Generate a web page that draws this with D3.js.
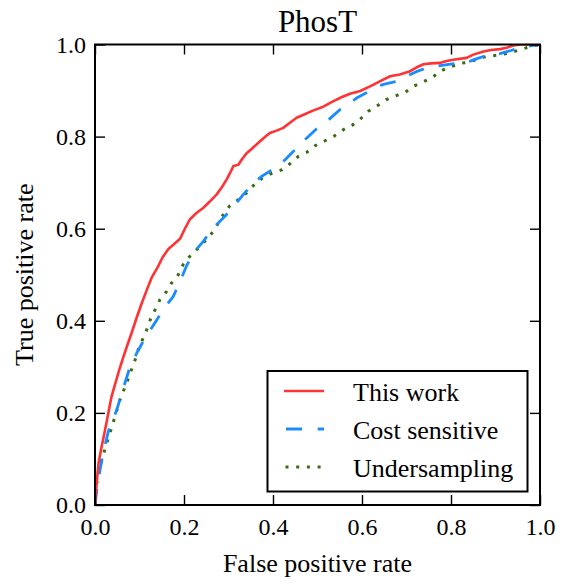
<!DOCTYPE html>
<html>
<head>
<meta charset="utf-8">
<script src="https://cdn.jsdelivr.net/npm/d3@7"></script>
<style>
  html, body { margin: 0; padding: 0; background: #fff; }
  svg { display: block; }
  text { font-family: "Liberation Serif", "DejaVu Serif", serif; fill: #000; }
</style>
</head>
<body>
<svg id="chart" width="563" height="584"></svg>
<script>
const title = "PhosT";
const xLabel = "False positive rate";
const yLabel = "True positive rate";
const tickValues = [0.0, 0.2, 0.4, 0.6, 0.8, 1.0];
const seriesNames = ["This work", "Cost sensitive", "Undersampling"];

const thisWorkFpr = [0,0.004,0.008,0.015,0.022,0.03,0.037,0.045,0.055,0.064,0.073,0.082,0.093,0.105,0.116,0.127,0.14,0.152,0.165,0.178,0.191,0.202,0.213,0.228,0.243,0.258,0.273,0.285,0.296,0.305,0.311,0.322,0.331,0.341,0.356,0.371,0.383,0.393,0.408,0.423,0.438,0.453,0.47,0.491,0.513,0.536,0.555,0.573,0.596,0.618,0.64,0.663,0.685,0.708,0.722,0.738,0.755,0.775,0.79,0.805,0.835,0.85,0.873,0.89,0.91,0.925,0.94,0.955,1];
const thisWorkTpr = [0,0.05,0.091,0.127,0.16,0.2,0.235,0.262,0.295,0.322,0.348,0.373,0.405,0.438,0.466,0.493,0.515,0.538,0.556,0.567,0.578,0.6,0.62,0.634,0.645,0.659,0.674,0.69,0.707,0.724,0.736,0.739,0.752,0.764,0.777,0.79,0.8,0.808,0.813,0.819,0.83,0.841,0.848,0.857,0.865,0.877,0.886,0.893,0.899,0.909,0.92,0.931,0.935,0.942,0.95,0.957,0.959,0.96,0.964,0.967,0.971,0.978,0.985,0.988,0.99,0.993,0.998,1,1];

const costFpr = [0,0.004,0.012,0.02,0.03,0.049,0.064,0.079,0.095,0.112,0.139,0.153,0.176,0.19,0.206,0.225,0.243,0.262,0.292,0.313,0.333,0.356,0.375,0.393,0.416,0.446,0.461,0.476,0.498,0.521,0.536,0.551,0.573,0.59,0.61,0.633,0.655,0.678,0.7,0.722,0.745,0.768,0.795,0.82,0.843,0.86,0.88,0.91,0.935,0.955,0.985,1];
const costTpr = [0,0.033,0.08,0.12,0.16,0.207,0.255,0.301,0.332,0.362,0.402,0.424,0.453,0.483,0.52,0.552,0.572,0.598,0.627,0.65,0.674,0.699,0.714,0.725,0.739,0.768,0.784,0.797,0.817,0.833,0.846,0.859,0.873,0.885,0.895,0.909,0.915,0.92,0.931,0.941,0.949,0.953,0.957,0.96,0.964,0.97,0.976,0.98,0.987,0.993,0.998,1];

const underFpr = [0,0.003,0.008,0.015,0.022,0.037,0.056,0.075,0.09,0.097,0.116,0.124,0.135,0.146,0.161,0.172,0.187,0.198,0.213,0.232,0.25,0.266,0.277,0.288,0.303,0.322,0.341,0.36,0.375,0.397,0.42,0.438,0.457,0.476,0.494,0.517,0.536,0.558,0.577,0.596,0.614,0.633,0.654,0.674,0.697,0.715,0.738,0.759,0.775,0.798,0.82,0.843,0.865,0.888,0.914,0.936,0.959,0.981,1];
const underTpr = [0,0.04,0.076,0.098,0.12,0.167,0.228,0.275,0.315,0.337,0.38,0.402,0.424,0.446,0.464,0.482,0.5,0.522,0.54,0.558,0.576,0.594,0.612,0.63,0.65,0.663,0.678,0.698,0.709,0.72,0.728,0.741,0.757,0.766,0.78,0.791,0.8,0.815,0.824,0.838,0.855,0.866,0.88,0.888,0.896,0.909,0.919,0.929,0.942,0.951,0.959,0.962,0.971,0.975,0.978,0.983,0.99,0.996,1];

const svg = d3.select("#chart");
const L = 95, R = 540, T = 44.5, B = 505;

const x = d3.scaleLinear().domain([0, 1]).range([L, R]);
const y = d3.scaleLinear().domain([0, 1]).range([B, T]);

svg.append("defs").append("clipPath").attr("id", "clip")
  .append("rect").attr("x", L).attr("y", T).attr("width", R - L).attr("height", B - T);

const styles = [
  { color: "#ff3333", dash: null, width: 2.6 },
  { color: "#1a8cff", dash: "16,15", width: 2.8 },
  { color: "#3a6b10", dash: "3,7.7", width: 3 }
];
const series = [
  thisWorkFpr.map((v, i) => [v, thisWorkTpr[i]]),
  costFpr.map((v, i) => [v, costTpr[i]]),
  underFpr.map((v, i) => [v, underTpr[i]])
];

const line = d3.line().x(d => x(d[0])).y(d => y(d[1]));
const g = svg.append("g").attr("clip-path", "url(#clip)");
[2, 1, 0].forEach(i => {
  const p = g.append("path").datum(series[i])
    .attr("d", line)
    .attr("fill", "none")
    .attr("stroke", styles[i].color)
    .attr("stroke-width", styles[i].width)
    .attr("stroke-linejoin", "round");
  if (styles[i].dash) p.attr("stroke-dasharray", styles[i].dash);
});

const fmt = d3.format(".1f");
const tickLen = 10;
const axB = svg.append("g").attr("transform", `translate(0,${B})`)
  .call(d3.axisBottom(x).tickValues(tickValues).tickFormat(fmt).tickSizeInner(-tickLen).tickSizeOuter(0).tickPadding(12));
const axT = svg.append("g").attr("transform", `translate(0,${T})`)
  .call(d3.axisTop(x).tickValues(tickValues).tickFormat("").tickSizeInner(-tickLen).tickSizeOuter(0));
const axL = svg.append("g").attr("transform", `translate(${L},0)`)
  .call(d3.axisLeft(y).tickValues(tickValues).tickFormat(fmt).tickSizeInner(-tickLen).tickSizeOuter(0).tickPadding(9));
const axR = svg.append("g").attr("transform", `translate(${R},0)`)
  .call(d3.axisRight(y).tickValues(tickValues).tickFormat("").tickSizeInner(-tickLen).tickSizeOuter(0));

[axB, axT, axL, axR].forEach(a => {
  a.select(".domain").remove();
  a.selectAll(".tick line").attr("stroke", "#000").attr("stroke-width", 1.4);
  a.selectAll("text").attr("font-family", "Liberation Serif").attr("font-size", 24).attr("fill", "#000");
});
axB.selectAll("text").attr("dy", null).attr("y", 0).attr("transform", "translate(0,30)");
axL.selectAll("text").attr("dy", "0.33em");

svg.append("rect").attr("x", L).attr("y", T).attr("width", R - L).attr("height", B - T)
  .attr("fill", "none").attr("stroke", "#000").attr("stroke-width", 2);

svg.append("text").attr("x", (L + R) / 2).attr("y", 32).attr("text-anchor", "middle")
  .attr("font-size", 31).text(title);
svg.append("text").attr("x", (L + R) / 2).attr("y", 572).attr("text-anchor", "middle")
  .attr("font-size", 26).text(xLabel);
svg.append("text").attr("transform", `translate(33,${(T + B) / 2}) rotate(-90)`)
  .attr("text-anchor", "middle").attr("font-size", 26).text(yLabel);

const lg = svg.append("g");
lg.append("rect").attr("x", 267.5).attr("y", 371).attr("width", 260).attr("height", 120.5)
  .attr("fill", "#fff").attr("stroke", "#000").attr("stroke-width", 2);
const rowY = [391, 429, 467];
seriesNames.forEach((name, i) => {
  const ln = lg.append("line").attr("x1", 284).attr("x2", 324).attr("y1", rowY[i]).attr("y2", rowY[i])
    .attr("stroke", styles[i].color).attr("stroke-width", styles[i].width);
  if (i === 1) ln.attr("x1", 286).attr("stroke-dasharray", "16,15.7");
  if (i === 2) ln.attr("x1", 285.5).attr("stroke-dasharray", "3,7.7");
  lg.append("text").attr("x", 353).attr("y", rowY[i] + 9.5).attr("font-size", 26).text(name);
});
</script>
</body>
</html>
